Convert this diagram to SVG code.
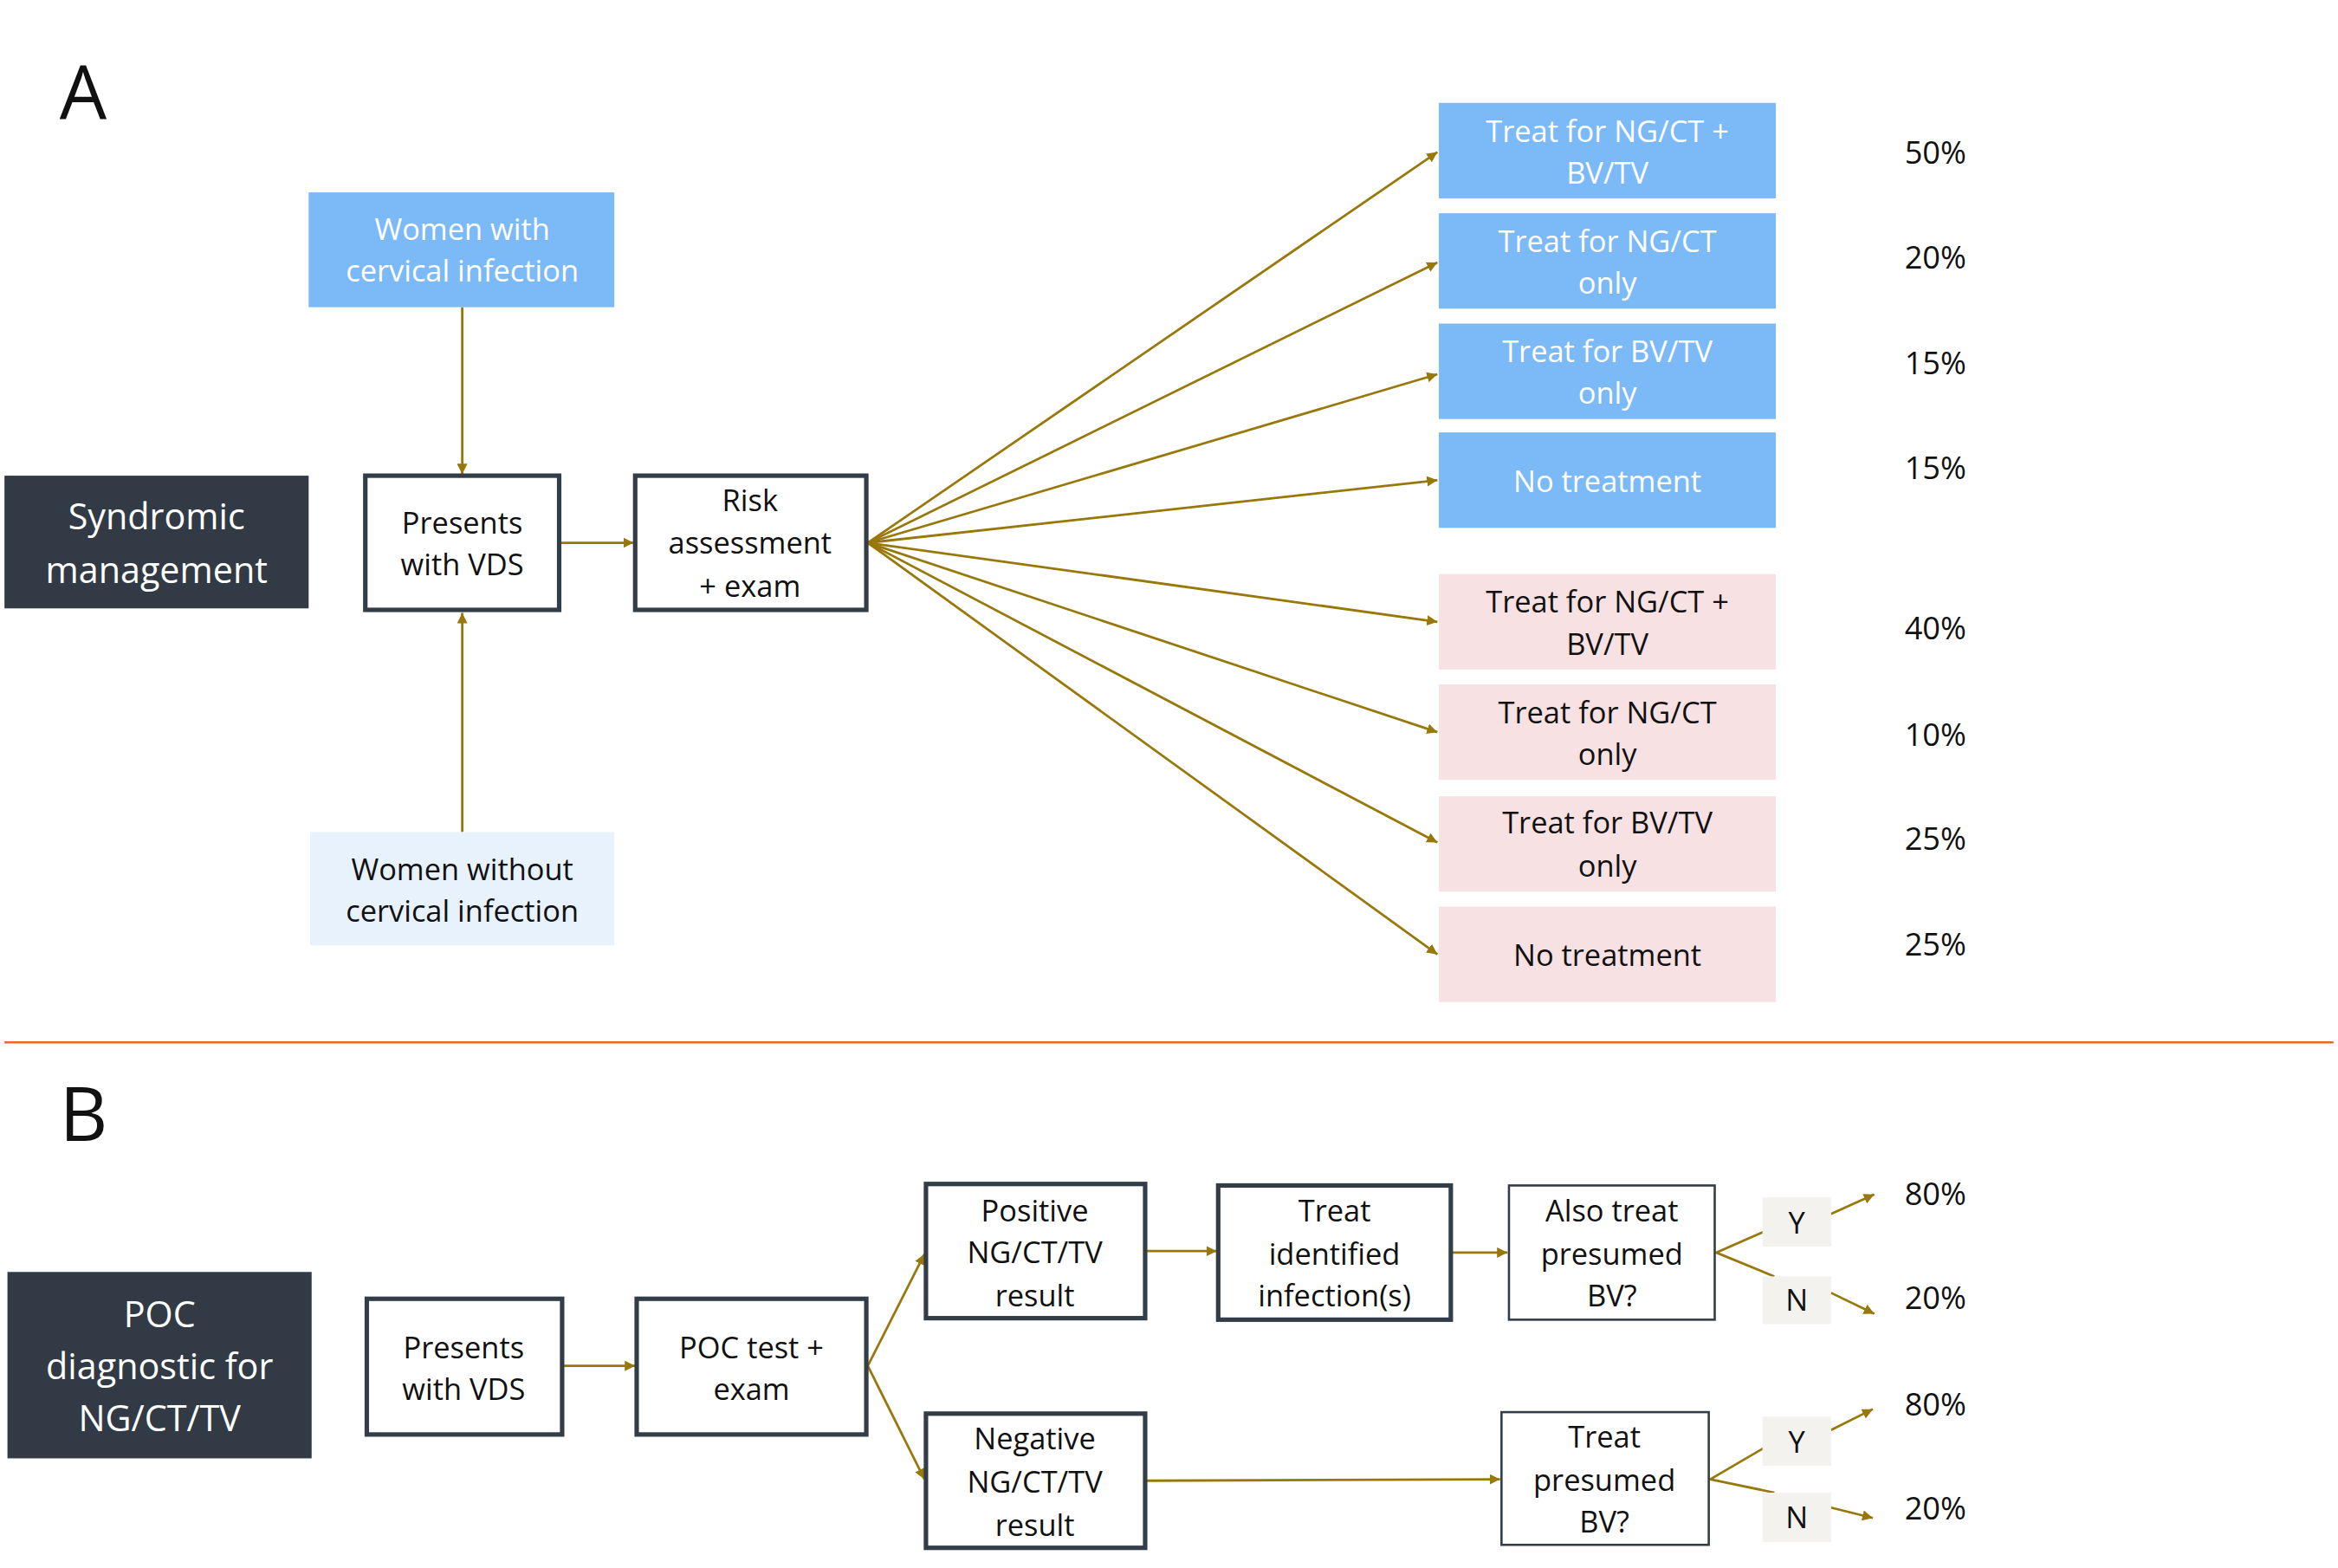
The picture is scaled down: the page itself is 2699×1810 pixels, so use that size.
<svg xmlns="http://www.w3.org/2000/svg" width="2699" height="1810" viewBox="0 0 2699 1810">
<defs>
<marker id="ah" viewBox="0 0 10 10" refX="10" refY="5" markerWidth="7" markerHeight="7" markerUnits="userSpaceOnUse" orient="auto"><path d="M0,0 L10,5 L0,10 z" fill="#98780a"/></marker>
<marker id="ah2" viewBox="0 0 10 10" refX="10" refY="5" markerWidth="14" markerHeight="14" markerUnits="userSpaceOnUse" orient="auto"><path d="M0,0 L10,5 L0,10 z" fill="#98780a"/></marker>
</defs>
<style>
text{font-family:"Open Sans","Noto Sans",sans-serif;text-anchor:middle;font-size:20px;fill:#111}
.w{fill:#fff}
.big{font-size:24px}
.lbl{font-size:50px;text-anchor:start}
.pct{font-size:21px}
.box{fill:#fff;stroke:#333d47;stroke-width:3}
.thin{fill:#fff;stroke:#333d47;stroke-width:1.5}
.dark{fill:#323b45}
.blue{fill:#7cb9f7}
.pink{fill:#f8e1e2}
.lb{fill:#e8f2fd}
.yn{fill:#f3f2ee}
.c{fill:none;stroke:#98780a;stroke-width:1.6;marker-end:url(#ah)}
.cn{fill:none;stroke:#98780a;stroke-width:1.6}
</style>
<rect width="2699" height="1810" fill="#fff"/>
<g transform="scale(1.72130)">
<text class="lbl" x="40" y="80">A</text>
<text class="lbl" x="40" y="765">B</text>
<line x1="3" y1="699" x2="1565" y2="699" stroke="#e8692e" stroke-width="1.5"/>

<g id="connectors">
<line class="c" x1="310" y1="206" x2="310" y2="318"/>
<line class="c" x1="310" y1="558" x2="310" y2="411"/>
<line class="c" x1="376" y1="364" x2="425" y2="364"/>
<line class="c" x1="582" y1="364" x2="964" y2="102"/>
<line class="c" x1="582" y1="364" x2="964" y2="176"/>
<line class="c" x1="582" y1="364" x2="964" y2="251"/>
<line class="c" x1="582" y1="364" x2="964" y2="322"/>
<line class="c" x1="582" y1="364" x2="964" y2="417"/>
<line class="c" x1="582" y1="364" x2="964" y2="491"/>
<line class="c" x1="582" y1="364" x2="964" y2="565"/>
<line class="c" x1="582" y1="364" x2="964" y2="640"/>
<line class="c" x1="378" y1="916" x2="426" y2="916"/>
<line class="c" x1="582" y1="916" x2="620" y2="841"/>
<line class="c" x1="582" y1="916" x2="620" y2="992"/>
<line class="c" x1="769" y1="839" x2="816" y2="839"/>
<line class="c" x1="974" y1="840" x2="1011" y2="840"/>
<line class="c" x1="769" y1="993" x2="1006" y2="992"/>
<polyline class="cn" points="1183,826 1151,840 1190,856"/>
<polyline class="cn" points="1183,971 1147,992 1190,1001"/>
<line class="c" x1="1228" y1="814" x2="1257" y2="801"/>
<line class="c" x1="1228" y1="867" x2="1257" y2="881"/>
<line class="c" x1="1228" y1="959" x2="1256" y2="945"/>
<line class="c" x1="1228" y1="1011" x2="1256" y2="1018"/>
</g>

<g id="synd"><rect class="dark" x="3" y="319" width="204" height="89"/><text class="w big" x="105" y="355">Syndromic</text><text class="w big" x="105" y="391">management</text></g>
<g id="womenInf"><rect class="blue" x="207" y="129" width="205" height="77"/><text class="w" x="310" y="161">Women with</text><text class="w" x="310" y="189">cervical infection</text></g>
<g id="womenNo"><rect class="lb" x="208" y="558" width="204" height="76"/><text x="310" y="590">Women without</text><text x="310" y="618">cervical infection</text></g>
<g id="presA"><rect class="box" x="245" y="319" width="130" height="90"/><text x="310" y="358">Presents</text><text x="310" y="386">with VDS</text></g>
<g id="risk"><rect class="box" x="426" y="319" width="155" height="90"/><text x="503" y="343">Risk</text><text x="503" y="371">assessment</text><text x="503" y="400">+ exam</text></g>

<g id="b1"><rect class="blue" x="965" y="69" width="226" height="64"/><text class="w" x="1078" y="95">Treat for NG/CT  +</text><text class="w" x="1078" y="123">BV/TV</text></g>
<g id="b2"><rect class="blue" x="965" y="143" width="226" height="64"/><text class="w" x="1078" y="169">Treat for NG/CT</text><text class="w" x="1078" y="197">only</text></g>
<g id="b3"><rect class="blue" x="965" y="217" width="226" height="64"/><text class="w" x="1078" y="243">Treat for BV/TV</text><text class="w" x="1078" y="271">only</text></g>
<g id="b4"><rect class="blue" x="965" y="290" width="226" height="64"/><text class="w" x="1078" y="330">No treatment</text></g>
<g id="p1"><rect class="pink" x="965" y="385" width="226" height="64"/><text x="1078" y="411">Treat for NG/CT  +</text><text x="1078" y="439">BV/TV</text></g>
<g id="p2"><rect class="pink" x="965" y="459" width="226" height="64"/><text x="1078" y="485">Treat for NG/CT</text><text x="1078" y="513">only</text></g>
<g id="p3"><rect class="pink" x="965" y="534" width="226" height="64"/><text x="1078" y="559">Treat for BV/TV</text><text x="1078" y="588">only</text></g>
<g id="p4"><rect class="pink" x="965" y="608" width="226" height="64"/><text x="1078" y="648">No treatment</text></g>

<g id="pctA">
<text class="pct" x="1298" y="110">50%</text><text class="pct" x="1298" y="180">20%</text><text class="pct" x="1298" y="251">15%</text><text class="pct" x="1298" y="321">15%</text>
<text class="pct" x="1298" y="429">40%</text><text class="pct" x="1298" y="500">10%</text><text class="pct" x="1298" y="570">25%</text><text class="pct" x="1298" y="641">25%</text>
</g>

<g id="poc"><rect class="dark" x="5" y="853" width="204" height="125"/><text class="w big" x="107" y="890">POC</text><text class="w big" x="107" y="925">diagnostic for</text><text class="w big" x="107" y="960">NG/CT/TV</text></g>
<g id="presB"><rect class="box" x="246" y="871" width="131" height="91"/><text x="311" y="911">Presents</text><text x="311" y="939">with VDS</text></g>
<g id="poctest"><rect class="box" x="427" y="871" width="154" height="91"/><text x="504" y="911">POC test +</text><text x="504" y="939">exam</text></g>
<g id="pos"><rect class="box" x="621" y="794" width="147" height="90"/><text x="694" y="819">Positive</text><text x="694" y="847">NG/CT/TV</text><text x="694" y="876">result</text></g>
<g id="treatId"><rect class="box" x="817" y="795" width="156" height="90"/><text x="895" y="819">Treat</text><text x="895" y="848">identified</text><text x="895" y="876">infection(s)</text></g>
<g id="also"><rect class="thin" x="1012" y="795" width="138" height="90"/><text x="1081" y="819">Also treat</text><text x="1081" y="848">presumed</text><text x="1081" y="876">BV?</text></g>
<g id="neg"><rect class="box" x="621" y="948" width="147" height="90"/><text x="694" y="972">Negative</text><text x="694" y="1001">NG/CT/TV</text><text x="694" y="1030">result</text></g>
<g id="treatPres"><rect class="thin" x="1007" y="947" width="139" height="89"/><text x="1076" y="971">Treat</text><text x="1076" y="1000">presumed</text><text x="1076" y="1028">BV?</text></g>
<g id="y1"><rect class="yn" x="1182" y="803" width="46" height="33"/><text x="1205" y="827">Y</text></g>
<g id="n1"><rect class="yn" x="1182" y="856" width="46" height="32"/><text x="1205" y="879">N</text></g>
<g id="y2"><rect class="yn" x="1182" y="950" width="46" height="33"/><text x="1205" y="974">Y</text></g>
<g id="n2"><rect class="yn" x="1182" y="1001" width="46" height="33"/><text x="1205" y="1025">N</text></g>
<g id="pctB">
<text class="pct" x="1298" y="808">80%</text><text class="pct" x="1298" y="878">20%</text><text class="pct" x="1298" y="949">80%</text><text class="pct" x="1298" y="1019">20%</text>
</g>
</g>
</svg>
